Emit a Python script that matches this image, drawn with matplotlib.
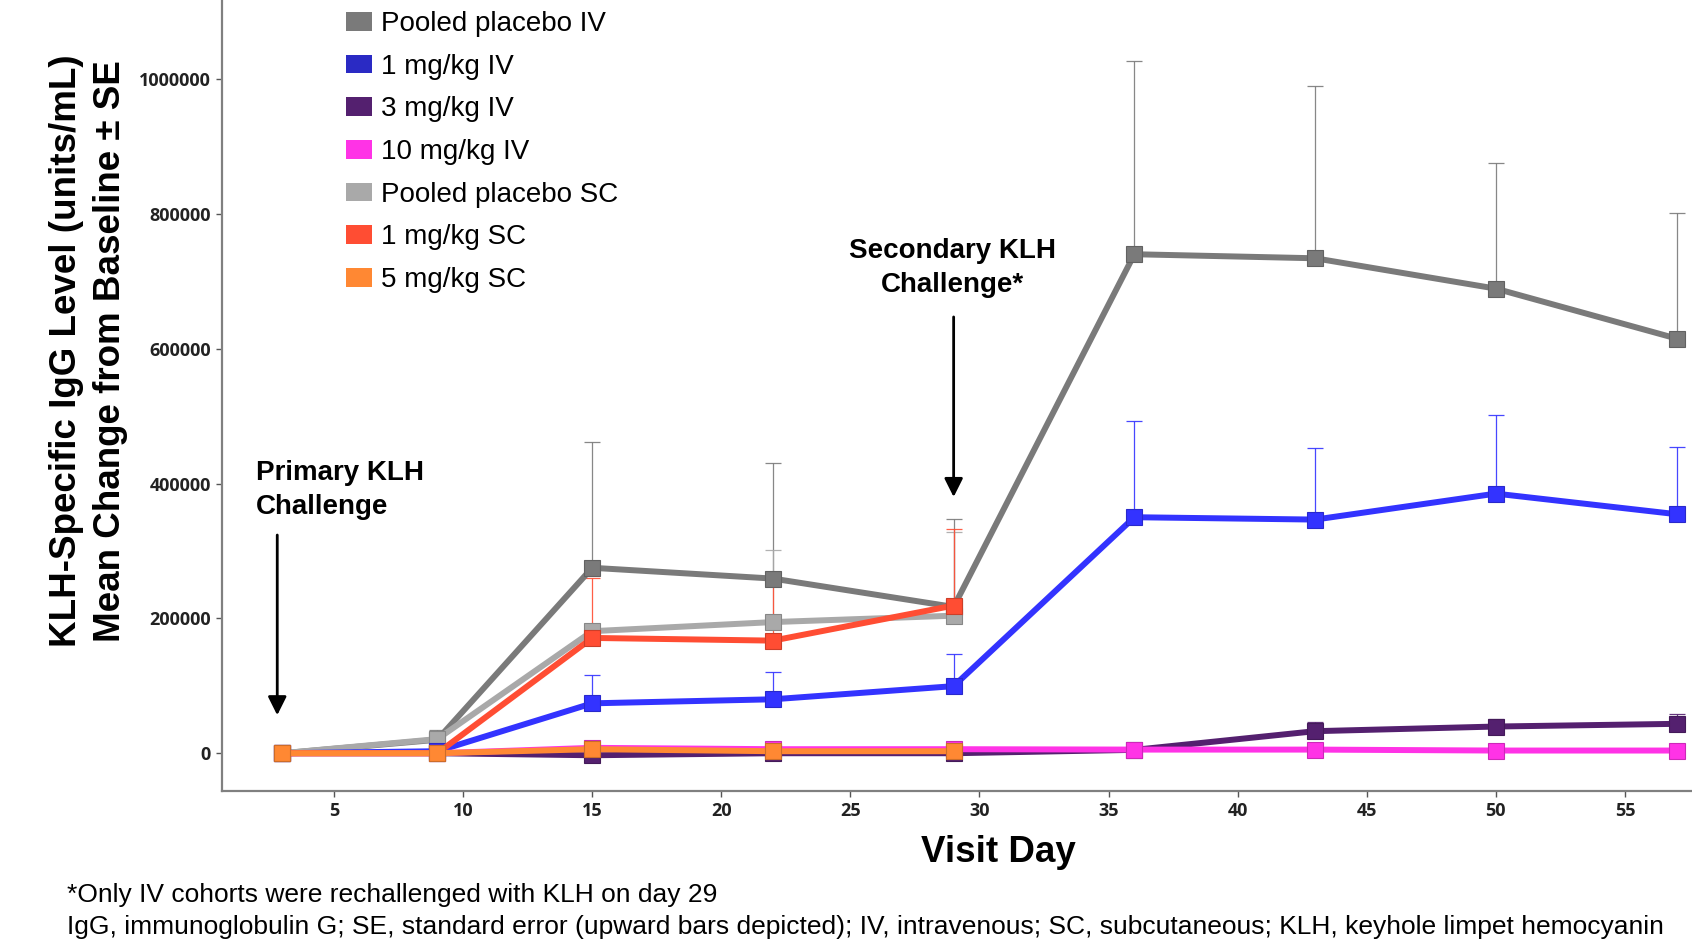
import matplotlib
matplotlib.use("Agg")
from matplotlib import pyplot as plt
from matplotlib.patches import Patch
import numpy as np

days = [3, 9, 15, 22, 29, 36, 43, 50, 57]
sc_days = [3, 9, 15, 22, 29]

labels = ["Pooled placebo IV", "1 mg/kg IV", "3 mg/kg IV", "10 mg/kg IV",
          "Pooled placebo SC", "1 mg/kg SC", "5 mg/kg SC"]
colors = ["#7a7a7a", "#3333ff", "#54206f", "#ff33e6",
          "#a9a9a9", "#ff4d33", "#ff8833"]
legend_colors = ["#7a7a7a", "#2a2ac4", "#54206f", "#ff33e6",
                 "#a9a9a9", "#ff4d33", "#ff8833"]

# mean change from baseline
placebo_iv = [0, 20000, 275000, 259000, 217000, 740000, 734000, 689000, 615000]
iv_1 = [0, 3000, 74000, 80000, 99500, 350000, 346500, 385000, 354500]
iv_3 = [0, 0, -3000, 0, 0, 5000, 32700, 39600, 43600]
iv_10 = [0, 0, 8000, 6000, 6000, 5400, 5400, 4000, 4000]
placebo_sc = [0, 21000, 181000, 194500, 204000]
sc_1 = [0, 0, 171000, 167000, 219000]
sc_5 = [0, 0, 6000, 3000, 3000]

# upper end of the SE bars
placebo_iv_up = [0, 35000, 462000, 431000, 348000, 1026000, 989000, 875000, 801000]
iv_1_up = [0, 10000, 116000, 121000, 147500, 493000, 452000, 502000, 454000]
iv_3_up = [0, 0, 0, 3000, 2000, 8000, 46000, 51000, 58400]
iv_10_up = [0, 0, 12000, 10000, 10000, 8000, 8000, 6000, 6000]
placebo_sc_up = [0, 32000, 188000, 301000, 328000]
sc_1_up = [0, 3000, 260000, 250500, 333000]
sc_5_up = [0, 2000, 10000, 7000, 7000]

series = [
    (days, placebo_iv, placebo_iv_up),
    (sc_days, placebo_sc, placebo_sc_up),
    (days, iv_1, iv_1_up),
    (days, iv_3, iv_3_up),
    (days, iv_10, iv_10_up),
    (sc_days, sc_1, sc_1_up),
    (sc_days, sc_5, sc_5_up),
]
series_colors = [colors[0], colors[4], colors[1], colors[2], colors[3],
                 colors[5], colors[6]]

yticks = [0, 200000, 400000, 600000, 800000, 1000000]
xticks = [5, 10, 15, 20, 25, 30, 35, 40, 45, 50, 55]

TEXT_FONT = ["Liberation Sans", "DejaVu Sans"]
TICK_FONT = ["Open Sans", "DejaVu Sans"]


def darker(c, f=0.8):
    rgb = np.array(matplotlib.colors.to_rgb(c))
    return tuple(rgb * f)


def fy(py):
    # pixel row from the top -> figure fraction
    return 1 - py / 951


def main():
    fig = plt.figure(figsize=(16.92, 9.51), dpi=100)
    ax = fig.add_axes([222 / 1692, 160 / 951, 1 - 222 / 1692, 791 / 951])

    for (x, y, up), c in zip(series, series_colors):
        x = np.array(x)
        y = np.array(y)
        err = np.clip(np.array(up) - y, 0, None)
        ax.errorbar(x, y, yerr=[np.zeros_like(err), err], fmt="none",
                    ecolor=c, elinewidth=0.9, capsize=6, capthick=0.9,
                    alpha=0.9, zorder=2)
        ax.plot(x, y, color=c, lw=4.3, marker="s", markersize=12,
                markerfacecolor=c, markeredgecolor=darker(c),
                markeredgewidth=0.8, zorder=3, solid_joinstyle="miter")

    ax.set_xlim(0.66, 57.6)
    ax.set_ylim(-56000, 1117000)
    ax.set_xticks(xticks)
    ax.set_yticks(yticks)
    ax.set_xticklabels([str(t) for t in xticks])
    ax.set_yticklabels([str(t) for t in yticks])
    for lab in ax.get_xticklabels() + ax.get_yticklabels():
        lab.set_family(TICK_FONT)
        lab.set_fontweight("bold")
        lab.set_fontsize(13)
        lab.set_color("#222222")
    ax.tick_params(axis="both", direction="out", length=4, width=1,
                   color="#555555", pad=4)

    for s in ["top", "right"]:
        ax.spines[s].set_visible(False)
    for s in ["left", "bottom"]:
        ax.spines[s].set_color("#808080")
        ax.spines[s].set_linewidth(1.6)

    # y label (two lines)
    fig.text(66 / 1692, fy(351), "KLH-Specific IgG Level (units/mL)",
             rotation=90, ha="center", va="center", fontsize=26.5,
             fontweight="bold", family=TEXT_FONT)
    fig.text(110 / 1692, fy(351), "Mean Change from Baseline \u00b1 SE",
             rotation=90, ha="center", va="center", fontsize=26.5,
             fontweight="bold", family=TEXT_FONT)

    fig.text(998 / 1692, fy(853), "Visit Day", ha="center", va="center",
             fontsize=26.5, fontweight="bold", family=TEXT_FONT)

    # challenge annotations
    arrow = dict(arrowstyle="-|>", color="black", lw=2, mutation_scale=28,
                 shrinkA=0, shrinkB=0)
    ax.annotate("", xy=(2.8, 56400), xytext=(2.8, 323600), arrowprops=arrow)
    ax.annotate("", xy=(29, 380000), xytext=(29, 647000), arrowprops=arrow)
    fig.text(256 / 1692, fy(473), "Primary KLH", ha="left", va="center",
             fontsize=20, fontweight="bold", family=TEXT_FONT)
    fig.text(256 / 1692, fy(507), "Challenge", ha="left", va="center",
             fontsize=20, fontweight="bold", family=TEXT_FONT)
    fig.text(952 / 1692, fy(251), "Secondary KLH", ha="center",
             va="center", fontsize=20, fontweight="bold", family=TEXT_FONT)
    fig.text(952 / 1692, fy(285), "Challenge*", ha="center",
             va="center", fontsize=20, fontweight="bold", family=TEXT_FONT)

    # legend
    handles = [Patch(facecolor=c, edgecolor="none") for c in legend_colors]
    fig.legend(handles, labels, loc="upper left",
               bbox_to_anchor=(346 / 1692, fy(11)), frameon=False,
               prop={"family": TEXT_FONT, "size": 20},
               handlelength=0.92, handleheight=0.65, handletextpad=0.35,
               labelspacing=0.6, borderpad=0, borderaxespad=0)

    # footnotes
    fig.text(67 / 1692, fy(895),
             "*Only IV cohorts were rechallenged with KLH on day 29",
             ha="left", va="center", fontsize=19, family=TEXT_FONT)
    fig.text(67 / 1692, fy(927),
             "IgG, immunoglobulin G; SE, standard error (upward bars depicted); "
             "IV, intravenous; SC, subcutaneous; KLH, keyhole limpet hemocyanin",
             ha="left", va="center", fontsize=19, family=TEXT_FONT)

    fig.savefig("out.png", dpi=100)


if __name__ == '__main__':
    main()
